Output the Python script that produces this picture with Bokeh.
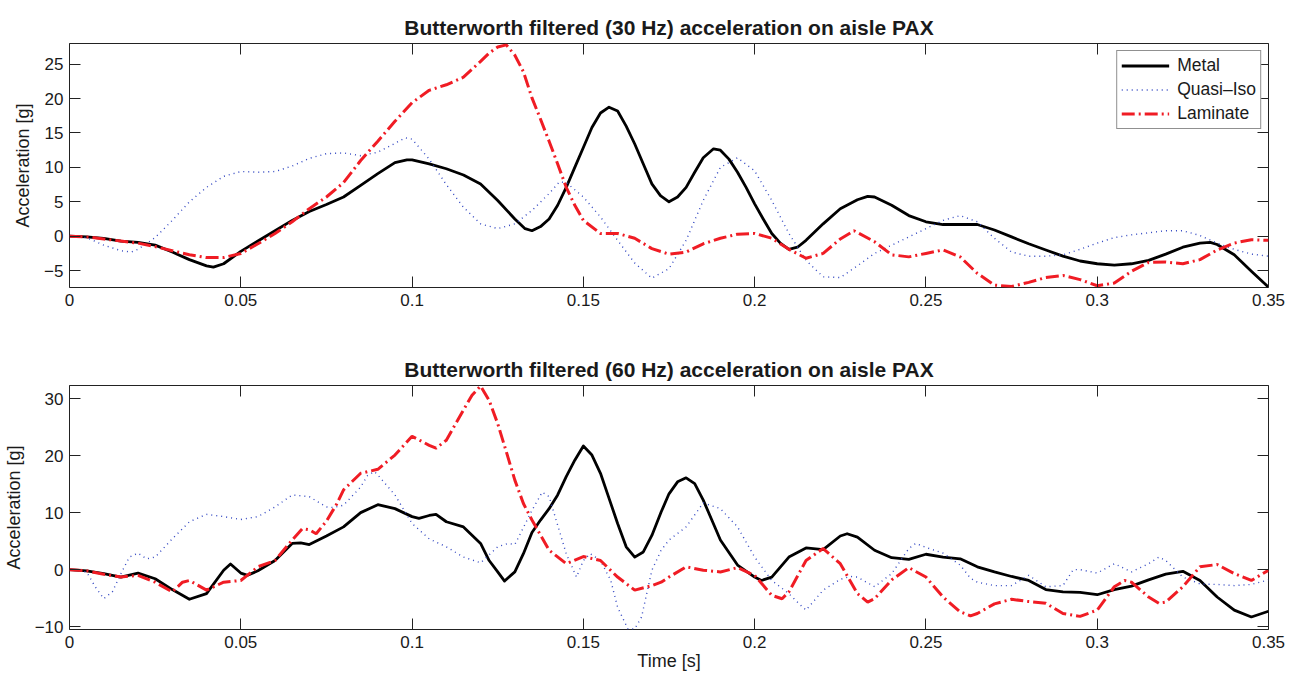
from bokeh.plotting import figure
from bokeh.layouts import column
from bokeh.models import (Range1d, FixedTicker, NumeralTickFormatter, LinearAxis,
                          CustomLabelingPolicy)
from bokeh.embed import file_html
from bokeh.resources import INLINE

FONT = "Liberation Sans"
TXT = "#1a1a1a"

# ---------------- data: 30 Hz filtered ----------------
t_metal_30 = [0, 0.005, 0.01, 0.015, 0.02, 0.025, 0.03, 0.035, 0.04, 0.042, 0.045, 0.05, 0.055, 0.06,
              0.065, 0.07, 0.075, 0.08, 0.085, 0.09, 0.095, 0.0985, 0.1, 0.105, 0.11, 0.115, 0.12, 0.125,
              0.13, 0.133, 0.135, 0.1375, 0.14, 0.1425, 0.145, 0.1475, 0.15, 0.1525, 0.155, 0.1575, 0.16,
              0.1625, 0.165, 0.1675, 0.17, 0.1725, 0.175, 0.1775, 0.18, 0.1825, 0.185, 0.188, 0.19, 0.1925,
              0.195, 0.1975, 0.2, 0.2025, 0.205, 0.2075, 0.21, 0.2125, 0.215, 0.22, 0.225, 0.23, 0.233,
              0.235, 0.24, 0.245, 0.25, 0.255, 0.26, 0.265, 0.27, 0.275, 0.28, 0.285, 0.29, 0.295, 0.3,
              0.305, 0.31, 0.315, 0.32, 0.325, 0.33, 0.333, 0.335, 0.34, 0.345, 0.35]
a_metal_30 = [0, -0.1, -0.3, -0.7, -0.9, -1.3, -2.3, -3.4, -4.3, -4.5, -4.0, -2.2, -0.7, 0.8,
              2.3, 3.6, 4.6, 5.7, 7.4, 9.1, 10.7, 11.1, 11.1, 10.5, 9.8, 8.9, 7.6, 5.2,
              2.5, 1.1, 0.8, 1.4, 2.5, 4.5, 7.1, 10.0, 12.9, 15.8, 17.9, 18.75, 18.2,
              16.0, 13.4, 10.5, 7.6, 5.9, 5.0, 5.7, 7.1, 9.3, 11.4, 12.7, 12.5, 11.2,
              9.3, 7.1, 4.7, 2.5, 0.4, -1.0, -1.9, -1.6, -0.6, 1.8, 4.0, 5.3, 5.8,
              5.7, 4.5, 3.0, 2.1, 1.7, 1.7, 1.7, 0.9, -0.1, -1.1, -2.0, -2.9, -3.6, -4.0,
              -4.2, -4.0, -3.5, -2.6, -1.6, -1.0, -0.9, -1.2, -2.7, -5.1, -7.4]

t_quasi_30 = [0, 0.005, 0.01, 0.015, 0.018, 0.02, 0.025, 0.03, 0.035, 0.04, 0.045, 0.05, 0.055, 0.06,
              0.065, 0.07, 0.075, 0.08, 0.085, 0.09, 0.095, 0.098, 0.1, 0.105, 0.11, 0.115, 0.12, 0.125,
              0.13, 0.135, 0.14, 0.143, 0.145, 0.15, 0.155, 0.16, 0.165, 0.17, 0.175, 0.18, 0.185, 0.19,
              0.195, 0.2, 0.205, 0.21, 0.215, 0.22, 0.225, 0.23, 0.235, 0.24, 0.245, 0.25, 0.255, 0.26,
              0.265, 0.27, 0.275, 0.28, 0.285, 0.29, 0.295, 0.3, 0.305, 0.31, 0.315, 0.32, 0.325, 0.33,
              0.335, 0.34, 0.345, 0.35]
a_quasi_30 = [0, -0.2, -1.3, -2.1, -2.3, -1.9, -0.2, 2.3, 5.0, 7.1, 8.7, 9.4, 9.3, 9.4,
              10.2, 11.3, 12.0, 12.1, 11.7, 12.2, 13.5, 14.3, 14.1, 11.2, 7.5, 4.2, 1.8, 1.1,
              1.8, 3.75, 6.2, 7.9, 7.8, 5.7, 2.8, -0.6, -3.9, -6.1, -4.7, -0.6, 5.2, 10.0,
              11.4, 9.5, 5.2, 0.4, -3.5, -5.9, -6.0, -4.3, -2.5, -1.3, -0.1, 1.1, 2.3, 3.0,
              2.1, -0.3, -2.3, -2.9, -2.9, -2.7, -1.9, -1.0, -0.2, 0.2, 0.5, 0.8, 0.8, 0.1,
              -1.0, -1.9, -2.6, -2.9]

t_lam_30 = [0, 0.005, 0.01, 0.015, 0.02, 0.025, 0.03, 0.035, 0.04, 0.045, 0.05, 0.055, 0.06, 0.065,
            0.07, 0.075, 0.08, 0.085, 0.09, 0.095, 0.1, 0.105, 0.11, 0.115, 0.12, 0.1225, 0.125, 0.1275,
            0.13, 0.1325, 0.135, 0.1375, 0.14, 0.1425, 0.145, 0.1475, 0.15, 0.155, 0.16, 0.165, 0.17,
            0.175, 0.18, 0.185, 0.19, 0.195, 0.2, 0.205, 0.21, 0.215, 0.22, 0.225, 0.229, 0.235, 0.24,
            0.245, 0.25, 0.255, 0.26, 0.265, 0.27, 0.275, 0.28, 0.285, 0.29, 0.295, 0.3, 0.305, 0.31,
            0.315, 0.32, 0.325, 0.33, 0.335, 0.34, 0.345, 0.35]
a_lam_30 = [0, -0.1, -0.4, -0.7, -1.0, -1.5, -2.1, -2.7, -3.1, -3.1, -2.5, -1.1, 0.4, 2.1,
            4.0, 5.7, 7.8, 11.0, 13.8, 16.7, 19.4, 21.2, 22.0, 23.1, 25.4, 26.6, 27.5, 27.8,
            26.3, 23.9, 20.1, 17.0, 13.8, 10.5, 7.1, 4.5, 2.3, 0.4, 0.4, -0.3, -1.8,
            -2.6, -2.3, -1.1, -0.3, 0.3, 0.4, -0.3, -1.9, -3.2, -2.5, -0.4, 0.8, -0.8, -2.7,
            -3.0, -2.5, -2.0, -3.0, -5.4, -7.1, -7.3, -6.7, -6.0, -5.7, -6.3, -7.2, -6.8, -5.1,
            -3.8, -3.75, -4.0, -3.4, -2.0, -1.0, -0.5, -0.6]

# ---------------- data: 60 Hz filtered ----------------
t_metal_60 = [0, 0.005, 0.01, 0.015, 0.02, 0.025, 0.03, 0.035, 0.04, 0.045, 0.047, 0.05, 0.052, 0.055,
              0.06, 0.065, 0.0675, 0.07, 0.075, 0.08, 0.085, 0.09, 0.095, 0.1, 0.102, 0.105, 0.107, 0.11,
              0.115, 0.12, 0.1225, 0.125, 0.127, 0.13, 0.1325, 0.135, 0.1375, 0.14, 0.1425, 0.145,
              0.1475, 0.15, 0.1525, 0.155, 0.1575, 0.16, 0.1625, 0.165, 0.1675, 0.17, 0.1727, 0.175,
              0.1775, 0.18, 0.1825, 0.185, 0.1875, 0.19, 0.195, 0.2, 0.202, 0.205, 0.21, 0.215, 0.22,
              0.225, 0.227, 0.23, 0.235, 0.24, 0.245, 0.25, 0.255, 0.26, 0.265, 0.27, 0.275, 0.28, 0.285,
              0.29, 0.295, 0.3, 0.305, 0.31, 0.315, 0.32, 0.325, 0.33, 0.335, 0.34, 0.345, 0.35]
a_metal_60 = [0, -0.2, -0.7, -1.3, -0.6, -1.6, -3.5, -5.2, -4.2, -0.1, 1.0, -0.6, -1.0, -0.2,
              1.6, 4.6, 4.7, 4.4, 5.9, 7.5, 10.0, 11.4, 10.7, 9.3, 9.0, 9.5, 9.7, 8.4,
              7.5, 4.6, 1.6, -0.4, -2.0, -0.4, 2.8, 6.5, 8.7, 10.7, 13.1, 16.3,
              19.2, 21.7, 20.1, 16.9, 12.5, 8.1, 4.0, 2.2, 3.1, 6.0, 10.1, 13.3,
              15.4, 16.1, 15.1, 12.2, 8.7, 5.2, 0.8, -1.3, -1.9, -1.3, 2.2, 3.8, 3.5,
              5.9, 6.3, 5.7, 3.4, 2.1, 1.8, 2.7, 2.2, 1.9, 0.5, -0.4, -1.2, -1.9, -3.5,
              -3.9, -4.0, -4.4, -3.5, -2.9, -1.8, -0.8, -0.3, -1.9, -4.8, -7.1, -8.3, -7.3]

t_quasi_60 = [0, 0.005, 0.0075, 0.01, 0.0125, 0.015, 0.0175, 0.02, 0.0225, 0.025, 0.03, 0.035, 0.04,
              0.045, 0.05, 0.055, 0.06, 0.065, 0.07, 0.075, 0.077, 0.08, 0.085, 0.087, 0.089, 0.09,
              0.095, 0.1, 0.105, 0.11, 0.115, 0.12, 0.125, 0.128, 0.13, 0.135, 0.138, 0.14, 0.145,
              0.148, 0.15, 0.152, 0.155, 0.158, 0.16, 0.163, 0.165, 0.167, 0.17, 0.1727, 0.175, 0.18,
              0.185, 0.19, 0.195, 0.2, 0.205, 0.21, 0.213, 0.215, 0.22, 0.225, 0.228, 0.23, 0.235,
              0.24, 0.245, 0.247, 0.25, 0.255, 0.26, 0.263, 0.265, 0.27, 0.275, 0.28, 0.285, 0.29,
              0.293, 0.295, 0.3, 0.305, 0.31, 0.315, 0.318, 0.32, 0.325, 0.33, 0.335, 0.34, 0.345, 0.35]
a_quasi_60 = [0, -0.4, -3.0, -5.1, -3.9, -0.7, 2.2, 2.9, 1.9, 2.2, 5.4, 8.4, 9.7,
              9.3, 8.8, 9.3, 11.0, 13.1, 12.8, 11.0, 10.9, 11.3, 14.5, 16.5, 17.2, 16.6,
              13.1, 8.1, 5.4, 4.0, 2.2, 1.2, 4.0, 4.6, 4.4, 10.4, 13.6, 12.8, 2.8,
              -1.3, 1.6, 2.8, 1.6, -1.9, -6.6, -10.4, -10.4, -8.3, -0.1, 3.4, 5.2, 7.5,
              11.7, 10.7, 7.5, 2.2, -1.9, -4.2, -6.0, -7.1, -3.6, -1.7, -1.2, -1.3, -3.0,
              -0.7, 3.7, 4.6, 3.9, 2.9, 0.8, -1.5, -2.2, -2.8, -2.8, -1.0, -3.0, -2.8,
              0.0, 0.0, -0.6, 1.05, -0.4, 1.05, 2.2, 1.6, -1.3, -2.5, -2.6, -2.8, -2.6, -1.8]

t_lam_60 = [0, 0.005, 0.01, 0.015, 0.02, 0.025, 0.03, 0.033, 0.035, 0.04, 0.045, 0.05, 0.055, 0.06,
            0.065, 0.068, 0.07, 0.072, 0.075, 0.078, 0.08, 0.085, 0.09, 0.095, 0.1, 0.105, 0.107, 0.11,
            0.115, 0.1175, 0.12, 0.1225, 0.125, 0.1275, 0.13, 0.1325, 0.135, 0.14, 0.145, 0.15, 0.155,
            0.16, 0.165, 0.17, 0.1727, 0.175, 0.18, 0.185, 0.19, 0.195, 0.2, 0.205, 0.208, 0.21, 0.215,
            0.22, 0.225, 0.23, 0.233, 0.235, 0.24, 0.245, 0.25, 0.255, 0.26, 0.263, 0.265, 0.27, 0.275,
            0.28, 0.285, 0.29, 0.295, 0.3, 0.305, 0.308, 0.31, 0.315, 0.318, 0.32, 0.325, 0.33, 0.335,
            0.34, 0.345, 0.35]
a_lam_60 = [0, -0.2, -0.8, -1.3, -1.0, -2.2, -3.9, -2.2, -1.9, -3.6, -2.2, -1.9, 0.5, 1.6,
            5.2, 7.2, 7.0, 6.3, 8.5, 11.5, 14.0, 16.9, 17.6, 20.1, 23.4, 21.8, 21.3, 22.7,
            28.0, 30.6, 32.2, 29.7, 25.6, 20.7, 15.7, 11.6, 8.7, 3.4, 1.05, 2.3, 1.6,
            -1.3, -3.6, -2.8, -2.2, -1.3, 0.5, -0.1, -0.4, 0.35, -1.0, -4.5, -5.1, -3.9, 1.6,
            3.7, 1.05, -4.2, -5.7, -5.1, -1.8, 0.35, -1.3, -4.8, -7.4, -8.1, -7.7, -6.0, -5.2,
            -5.6, -5.9, -7.7, -8.2, -7.1, -3.0, -1.9, -2.2, -4.8, -5.9, -5.7, -3.0, 0.5, 0.9,
            -0.7, -1.9, -0.1]

x_ticks = [0, 0.05, 0.1, 0.15, 0.2, 0.25, 0.3, 0.35]
y_ticks_30 = [-5, 0, 5, 10, 15, 20, 25]
y_ticks_60 = [-10, 0, 10, 20, 30]
series_names = ["Metal", "Quasi\u2013Iso", "Laminate"]
titles = ["Butterworth filtered (30 Hz) acceleration on aisle PAX",
          "Butterworth filtered (60 Hz) acceleration on aisle PAX"]


def minus(v):
    return str(v).replace("-", "\u2212")


def make_fig(title, y_lo, y_hi, yticks, height, b_top, b_bottom, xlabel=None):
    p = figure(width=1294, height=height, output_backend="svg", toolbar_location=None,
               x_range=Range1d(0, 0.35), y_range=Range1d(y_lo, y_hi),
               min_border_left=67, min_border_right=26, min_border_top=b_top,
               min_border_bottom=b_bottom)
    p.title.text = title
    p.title.text_font = FONT
    p.title.text_font_style = "bold"
    p.title.text_font_size = "21px"
    p.title.text_color = TXT
    p.title.align = "center"
    p.title.standoff = 9
    p.xgrid.visible = False
    p.ygrid.visible = False
    p.outline_line_color = "#222222"
    p.outline_line_width = 1
    p.background_fill_color = "white"
    p.border_fill_color = "white"

    # mirrored axes (ticks only) for the MATLAB-style box
    p.add_layout(LinearAxis(), "above")
    p.add_layout(LinearAxis(), "right")

    for ax in p.xaxis:
        ax.ticker = FixedTicker(ticks=x_ticks)
        ax.formatter = NumeralTickFormatter(format="0.[00]")
    ylab = {v: minus(v) for v in yticks}
    for ax in p.yaxis:
        ax.ticker = FixedTicker(ticks=yticks)
        ax.major_label_overrides = ylab
    for ax in p.xaxis + p.yaxis:
        ax.axis_line_color = None
        ax.major_tick_in = 11
        ax.major_tick_out = 0
        ax.major_tick_line_color = "#222222"
        ax.major_tick_line_width = 1
        ax.minor_tick_line_color = None
        ax.major_label_text_font = FONT
        ax.major_label_text_font_size = "17px"
        ax.major_label_text_color = TXT
        ax.major_label_standoff = 6
        ax.axis_label_text_font = FONT
        ax.axis_label_text_font_style = "normal"
        ax.axis_label_text_font_size = "18px"
        ax.axis_label_text_color = TXT
    for ax in (p.above[0], p.right[0]):
        ax.major_label_text_font_size = "0px"
        ax.major_label_standoff = 0
        ax.major_label_policy = CustomLabelingPolicy(code="return []")
    left = p.left[0]
    left.axis_label = "Acceleration [g]"
    left.axis_label_standoff = 8
    if xlabel:
        bot = p.below[0]
        bot.axis_label = xlabel
        bot.axis_label_standoff = 0
    return p


def add_series(p, tm, am, tq, aq, tl, al, legend=False):
    kw = [{}, {}, {}]
    if legend:
        kw = [dict(legend_label=n) for n in series_names]
    p.line(tm, am, line_color="black", line_width=2.8, line_join="round", **kw[0])
    p.line(tq, aq, line_color="#3247c2", line_width=1.4, line_dash="1 4", **kw[1])
    p.line(tl, al, line_color="#f01c24", line_width=3, line_dash="13 4 2 4", **kw[2])


p1 = make_fig(titles[0], -7.45, 28.0, y_ticks_30, 335, 43, 48)
add_series(p1, t_metal_30, a_metal_30, t_quasi_30, a_quasi_30, t_lam_30, a_lam_30, legend=True)
lg = p1.legend[0]
lg.location = "top_right"
lg.margin = 7
lg.padding = 4
lg.spacing = 3
lg.glyph_height = 19
lg.label_height = 19
lg.glyph_width = 48
lg.label_standoff = 8
lg.label_text_font = FONT
lg.label_text_font_size = "17.5px"
lg.label_text_color = TXT
lg.border_line_color = "#222222"
lg.border_line_width = 1
lg.background_fill_alpha = 1.0

p2 = make_fig(titles[1], -10.5, 32.3, y_ticks_60, 340, 50, 46, xlabel="Time [s]")
add_series(p2, t_metal_60, a_metal_60, t_quasi_60, a_quasi_60, t_lam_60, a_lam_60)

layout = column(p1, p2, spacing=0)
open("out.html", "w").write(file_html(layout, INLINE))
